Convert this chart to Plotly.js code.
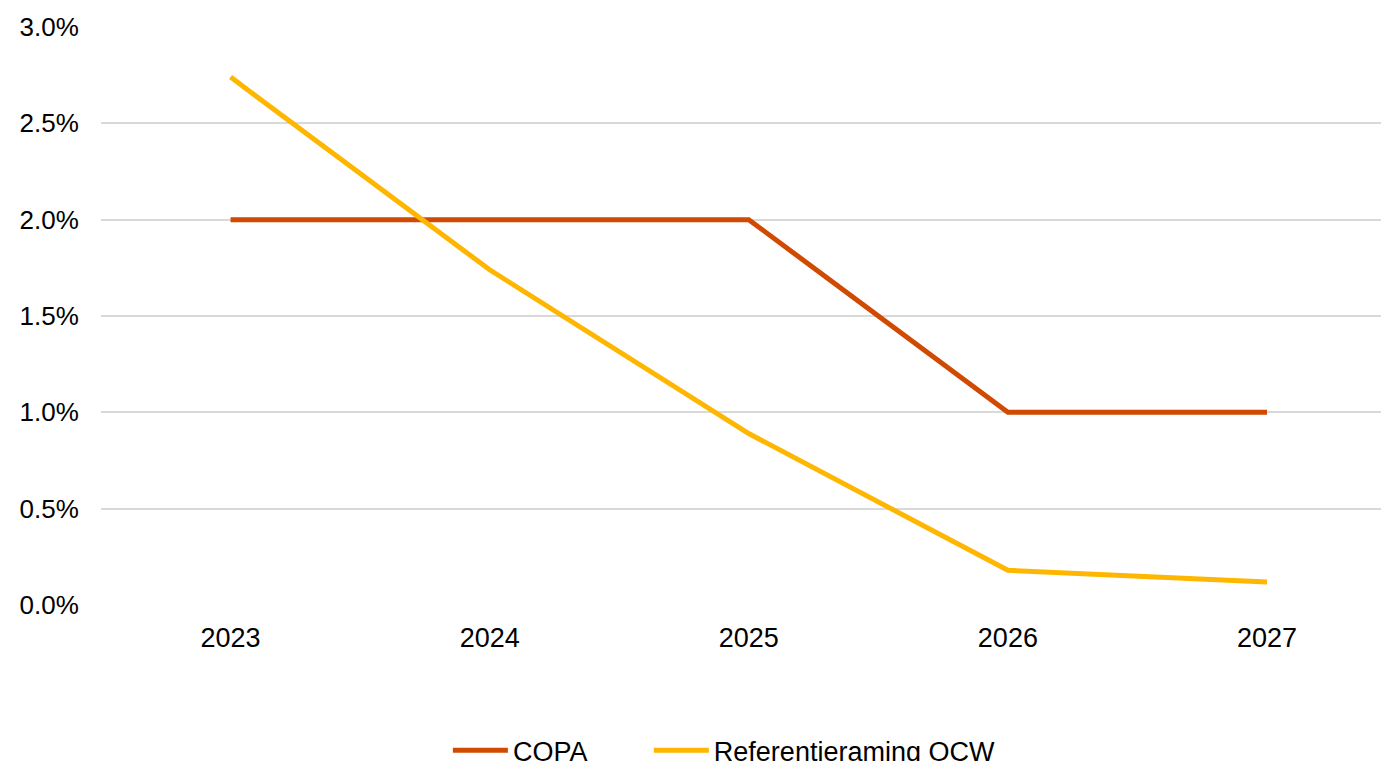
<!DOCTYPE html>
<html>
<head>
<meta charset="utf-8">
<script src="https://cdn.plot.ly/plotly-3.0.1.min.js"></script>
<style>html,body{margin:0;padding:0;background:#fff;}#chart{width:1381px;height:761px;}</style>
</head>
<body>
<div id="chart"></div>
<script>
const years = ['2023', '2024', '2025', '2026', '2027'];
const copa = [2.0, 2.0, 2.0, 1.0, 1.0];
const referentieraming = [2.74, 1.74, 0.89, 0.18, 0.12];
const seriesNames = ['COPA', 'Referentieraming OCW'];
const yTicks = [0, 0.5, 1.0, 1.5, 2.0, 2.5, 3.0];
const yTickLabels = ['0.0%', '0.5%', '1.0%', '1.5%', '2.0%', '2.5%', '3.0%'];

const fam = '"Liberation Sans", Arial, sans-serif';
const font = {family: fam, size: 27, color: '#000'};
const yfont = {family: fam, size: 26, color: '#000'};

const traces = [
  {x: years, y: copa, name: seriesNames[0], type: 'scatter', mode: 'lines',
   line: {color: '#D04A02', width: 5}, legend: 'legend'},
  {x: years, y: referentieraming, name: seriesNames[1], type: 'scatter', mode: 'lines',
   line: {color: '#FFB600', width: 5}, legend: 'legend2'}
];

const legBase = {orientation: 'h', xanchor: 'left', y: -0.252, yanchor: 'middle',
                 font: font, itemwidth: 55, bgcolor: 'rgba(0,0,0,0)'};

const layout = {
  width: 1381, height: 761,
  margin: {l: 101, r: 0, t: 27, b: 156, autoexpand: false},
  paper_bgcolor: '#fff', plot_bgcolor: '#fff',
  font: font,
  showlegend: true,
  legend: Object.assign({}, legBase, {x: 0.271}),
  legend2: Object.assign({}, legBase, {x: 0.428}),
  xaxis: {type: 'category', range: [-0.5, 4.44], showgrid: false, zeroline: false,
          showline: false, ticks: 'outside', ticklen: 9, tickcolor: 'rgba(0,0,0,0)',
          tickfont: font, fixedrange: true},
  yaxis: {range: [0, 3], tickmode: 'array', tickvals: yTicks, ticktext: yTickLabels,
          showgrid: true, gridcolor: '#d9d9d9', gridwidth: 2, zeroline: false,
          showline: false, ticks: 'outside', ticklen: 16, tickcolor: 'rgba(0,0,0,0)',
          tickfont: yfont, fixedrange: true}
};

Plotly.newPlot('chart', traces, layout, {displayModeBar: false, staticPlot: true});
</script>
</body>
</html>
